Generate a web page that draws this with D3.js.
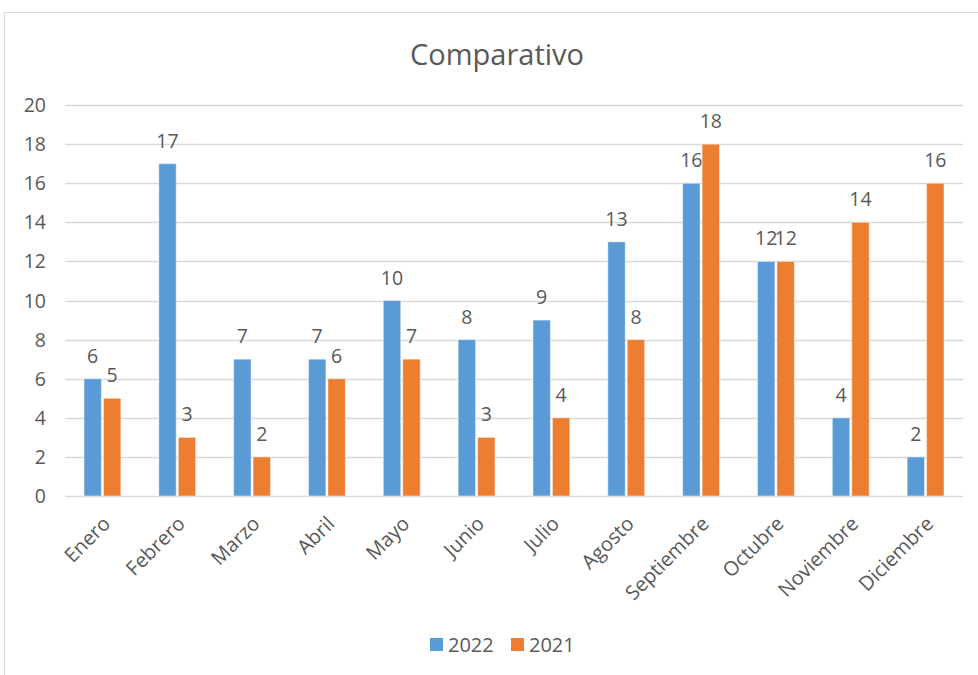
<!DOCTYPE html>
<html>
<head>
<meta charset="utf-8">
<script src="https://cdn.jsdelivr.net/npm/d3@7"></script>
<style>
  body { margin: 0; background: #fff; }
  text { font-family: "Open Sans", sans-serif; fill: #595959; }
</style>
</head>
<body>
<svg id="chart" width="978" height="675"></svg>
<script>
// Comparativo 2022 vs 2021

const months = ['Enero', 'Febrero', 'Marzo', 'Abril', 'Mayo', 'Junio',
  'Julio', 'Agosto', 'Septiembre', 'Octubre', 'Noviembre', 'Diciembre'];
const series = ['2022', '2021'];
const values2022 = [6, 17, 7, 7, 10, 8, 9, 13, 16, 12, 4, 2];
const values2021 = [5, 3, 2, 6, 7, 3, 4, 8, 18, 12, 14, 16];
const yTicks = [0, 2, 4, 6, 8, 10, 12, 14, 16, 18, 20];
const colors = ['#5B9BD5', '#ED7D31'];

const svg = d3.select('#chart');

// chart border
svg.append('rect')
  .attr('x', 4.5).attr('y', 12.5)
  .attr('width', 1000).attr('height', 700)
  .attr('fill', 'none')
  .attr('stroke', '#D9D9D9');

const x = d3.scaleBand()
  .domain(months)
  .range([65, 963])
  .paddingInner(0.48)
  .paddingOuter(0.24);

const xSub = d3.scaleBand()
  .domain(series)
  .range([0, x.bandwidth()]);

const y = d3.scaleLinear()
  .domain([0, 20])
  .range([496, 105]);

// gridlines
svg.append('g')
  .selectAll('line')
  .data(yTicks)
  .join('line')
    .attr('x1', 65).attr('x2', 963)
    .attr('y1', d => Math.round(y(d)) + 0.5)
    .attr('y2', d => Math.round(y(d)) + 0.5)
    .attr('stroke', '#D9D9D9')
    .attr('stroke-width', 1.5);

// y axis labels
svg.append('g')
  .selectAll('text')
  .data(yTicks)
  .join('text')
    .attr('x', 46)
    .attr('y', d => y(d))
    .attr('dy', '0.36em')
    .attr('text-anchor', 'end')
    .attr('font-size', 19.5)
    .text(d => d);

const rows = months.map((m, i) => ({ month: m, vals: [values2022[i], values2021[i]] }));

const groups = svg.append('g')
  .selectAll('g')
  .data(rows)
  .join('g')
    .attr('transform', d => `translate(${x(d.month)},0)`);

const bars = groups.selectAll('g')
  .data(d => d.vals.map((v, j) => ({ key: series[j], v, j })))
  .join('g');

bars.append('rect')
  .attr('x', d => xSub(d.key) + 1)
  .attr('width', xSub.bandwidth() - 2)
  .attr('y', d => y(d.v))
  .attr('height', d => y(0) - y(d.v))
  .attr('fill', d => colors[d.j])
  .attr('stroke', '#fff')
  .attr('stroke-opacity', 0.5);

bars.append('text')
  .attr('x', d => xSub(d.key) + xSub.bandwidth() / 2)
  .attr('y', d => y(d.v) - 16)
  .attr('text-anchor', 'middle')
  .attr('font-size', 19.5)
  .text(d => d.v);

// x axis labels
svg.append('g')
  .selectAll('text')
  .data(months)
  .join('text')
    .attr('text-anchor', 'end')
    .attr('font-size', 20)
    .attr('transform', d => `translate(${x(d) + x.bandwidth() / 2 + 9},${525}) rotate(-45)`)
    .text(d => d);

// title
svg.append('text')
  .attr('x', 497)
  .attr('y', 65)
  .attr('text-anchor', 'middle')
  .attr('font-size', 29)
  .text('Comparativo');

// legend
const legend = svg.append('g')
  .selectAll('g')
  .data(series)
  .join('g')
    .attr('transform', (d, i) => `translate(${430 + i * 81},638)`);

legend.append('rect')
  .attr('width', 13).attr('height', 13)
  .attr('fill', (d, i) => colors[i]);

legend.append('text')
  .attr('x', 18)
  .attr('y', 14)
  .attr('font-size', 20)
  .text(d => d);
</script>
</body>
</html>
